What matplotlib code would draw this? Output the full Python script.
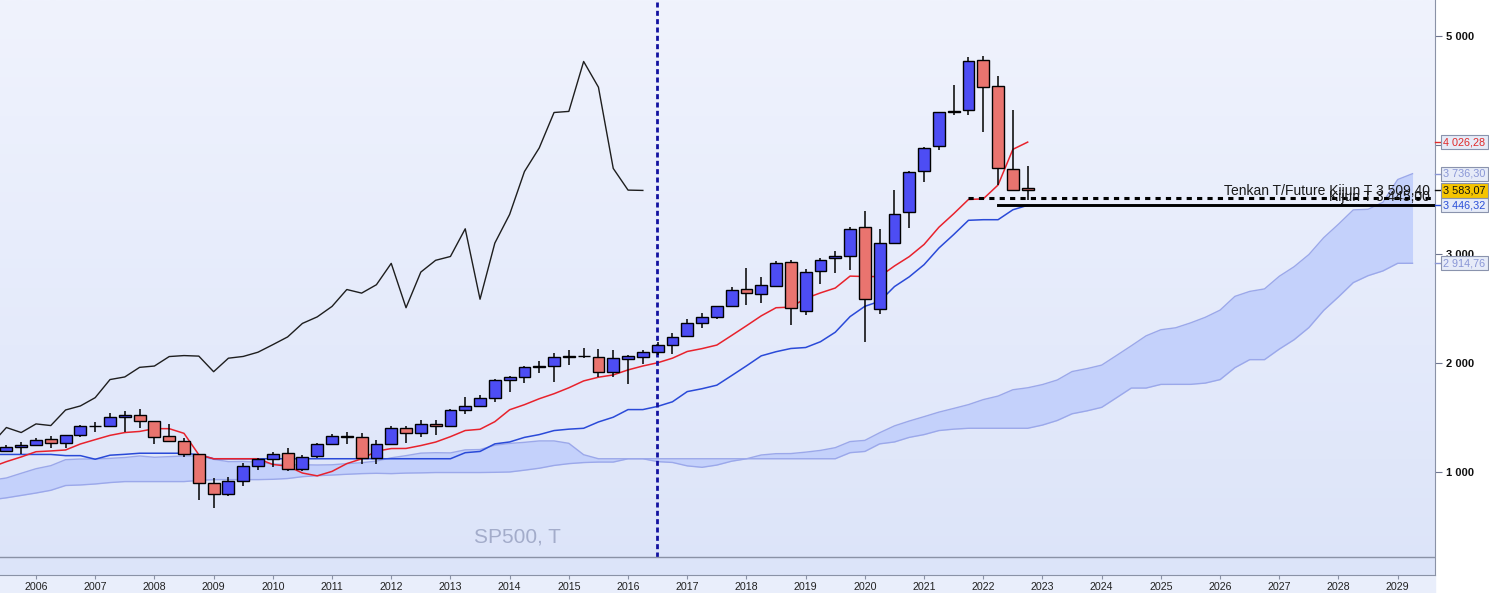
import numpy as np
import matplotlib.pyplot as plt
import matplotlib.transforms as mtransforms
from matplotlib.colors import LinearSegmentedColormap

plt.rcParams['font.family'] = ['Liberation Sans', 'DejaVu Sans']

# SP500 quarterly candles, Q3 2005 .. Q4 2022
opens = [1191, 1228, 1248, 1302, 1270, 1336, 1418, 1421, 1504, 1527,
         1468, 1326, 1284, 1164, 903, 798, 920, 1058, 1116, 1171,
         1032, 1143, 1258, 1329, 1321, 1131, 1258, 1408, 1362, 1441,
         1426, 1569, 1609, 1682, 1846, 1873, 1962, 1972, 2059, 2067,
         2059, 1919, 2038, 2057, 2099, 2164, 2251, 2363, 2424, 2521,
         2683, 2633, 2705, 2926, 2476, 2848, 2964, 2984, 3244, 2499,
         3105, 3385, 3764, 3992, 4300, 4317, 4778, 4540, 3781, 3609]
highs = [1245, 1275, 1310, 1326, 1340, 1431, 1461, 1540, 1556, 1576,
         1471, 1440, 1314, 1167, 944, 956, 1080, 1130, 1180, 1220,
         1157, 1262, 1344, 1371, 1357, 1292, 1420, 1422, 1475, 1475,
         1574, 1687, 1710, 1849, 1884, 1968, 2019, 2093, 2119, 2135,
         2132, 2116, 2072, 2120, 2194, 2278, 2401, 2454, 2519, 2695,
         2873, 2790, 2940, 2941, 2860, 2964, 3028, 3247, 3394, 3233,
         3588, 3760, 3983, 4298, 4546, 4808, 4819, 4637, 4325, 3806]
lows = [1183, 1168, 1245, 1219, 1224, 1323, 1364, 1416, 1370, 1406,
        1257, 1272, 1133, 741, 667, 783, 870, 1020, 1045, 1011,
        1010, 1131, 1250, 1258, 1075, 1074, 1258, 1267, 1325, 1343,
        1426, 1536, 1604, 1646, 1738, 1814, 1905, 1821, 1981, 2048,
        1867, 1872, 1810, 1992, 2074, 2084, 2245, 2322, 2405, 2520,
        2533, 2553, 2699, 2347, 2444, 2728, 2822, 2856, 2192, 2447,
        3101, 3234, 3662, 3955, 4279, 4278, 4115, 3637, 3585, 3491]
closes = [1229, 1248, 1295, 1270, 1336, 1418, 1421, 1503, 1527, 1468,
          1323, 1280, 1166, 903, 798, 919, 1057, 1115, 1169, 1031,
          1141, 1258, 1326, 1321, 1131, 1258, 1408, 1362, 1441, 1426,
          1569, 1606, 1682, 1848, 1872, 1960, 1972, 2059, 2068, 2063,
          1920, 2044, 2060, 2099, 2168, 2239, 2363, 2423, 2519, 2674,
          2641, 2718, 2914, 2507, 2834, 2942, 2977, 3231, 2585, 3100,
          3363, 3756, 3973, 4298, 4308, 4766, 4530, 3785, 3586, 3583.07]

# ichimoku lines, Q2 2005 .. Q4 2022
tenkan = [1045, 1095, 1138, 1186, 1193, 1202, 1257, 1297, 1336,
          1362, 1372, 1397.5, 1397.5, 1354.5, 1158.5, 1121.5, 1121.5, 1121.5, 1121.5,
          1069, 1053.5, 990.5, 964.5, 1005.5, 1077, 1120.5, 1190.5, 1215, 1216,
          1242.5, 1274.5, 1324, 1380.5, 1392, 1461.5, 1571, 1617.5, 1672, 1718,
          1772.5, 1835.5, 1869.5, 1890.5, 1936.5, 1972.5, 2002, 2044, 2105.5, 2132,
          2164.5, 2252.5, 2341.5, 2432.5, 2507, 2512.5, 2593, 2643, 2687.5, 2797,
          2793, 2793, 2890, 2976, 3087.5, 3245, 3369, 3500, 3505.5, 3633,
          3960, 4026.28]
kijun = [1161, 1161, 1161, 1161, 1161, 1150, 1150, 1117, 1154, 1162, 1172, 1172, 1172, 1172, 1158.5,
         1121.5, 1121.5, 1121.5, 1121.5, 1121.5, 1121.5, 1121.5, 1121.5, 1121.5,
         1121.5, 1121.5, 1121.5, 1121.5, 1121.5, 1121.5, 1121.5, 1121.5,
         1177, 1188.5, 1258, 1275.5, 1317.5, 1343, 1380, 1393, 1401, 1459,
         1502.5, 1572.5, 1572.5, 1602, 1644, 1737.5, 1764, 1796.5, 1884.5, 1973.5,
         2065.5, 2103.5, 2133, 2142, 2195, 2282, 2425.5, 2520, 2566, 2701,
         2790.5, 2902, 3054, 3178, 3309, 3314.5, 3314.5, 3405.5, 3446.32]

# cloud (shifted 26 quarters ahead), Q2 2005 .. Q2 2029
senkou_a = [925, 945, 988, 1030, 1058, 1113, 1119, 1119, 1125, 1133, 1147, 1135, 1141, 1147, 1147,
            1116, 1095, 1097, 1090, 1074, 1066, 1066, 1064, 1066, 1077, 1085, 1100,
            1130, 1150, 1173, 1177, 1175, 1203, 1206, 1245, 1262, 1272,
            1285, 1285, 1263, 1158.5, 1121.5, 1121.5, 1121.5, 1121.5, 1095, 1087.5,
            1056, 1043, 1063.5, 1099, 1121, 1156, 1168, 1169, 1182, 1198,
            1223, 1279, 1290, 1360, 1423, 1467.5, 1507.5, 1549, 1583, 1618,
            1664, 1696.5, 1754.5, 1772.5, 1802, 1844, 1921.5, 1948, 1980.5, 2068.5,
            2157.5, 2249, 2305, 2323, 2367.5, 2419, 2485, 2611, 2656.5, 2679.5,
            2795.5, 2883, 2995, 3149.5, 3273.5, 3404.5, 3410, 3474, 3683, 3736.30]
senkou_b = [745, 763, 785, 807, 832, 876, 881, 890, 903, 912, 912, 912, 912, 912, 923,
            930, 930, 930, 930, 933, 940, 957, 966, 972, 979, 985, 988,
            985, 990, 992, 995, 995, 995, 995, 997, 1000, 1016.5,
            1034.5, 1060, 1076.5, 1086.5, 1091, 1091,
            1121.5, 1121.5, 1121.5, 1121.5, 1121.5, 1121.5, 1121.5, 1121.5,
            1121.5, 1121.5, 1121.5, 1121.5, 1121.5, 1121.5, 1121.5,
            1177, 1188.5, 1258, 1275.5, 1317.5, 1343, 1380, 1393, 1401, 1401,
            1401, 1401, 1401, 1430.5, 1472.5, 1534, 1560.5, 1593, 1681, 1770,
            1770, 1803.5, 1804, 1804, 1815.5, 1847.5, 1957, 2030.5, 2030.5, 2127.5,
            2213.5, 2325, 2482.5, 2606.5, 2737.5, 2801, 2844.5, 2914.5, 2914.76]

year_ticks = list(range(2006, 2030))
price_ticks = [1000, 2000, 3000, 4000, 5000]
price_labels = ['1 000', '2 000', '3 000', '4 000', '5 000']

tenkan_future = 3509.40
kijun_level = 3445.00

o = np.array(opens, dtype=float)
c = np.array(closes, dtype=float)
t = 2005.5 + 0.25 * np.arange(len(opens))
t_lines = 2005.25 + 0.25 * np.arange(len(tenkan))
t_cloud = 2005.25 + 0.25 * np.arange(len(senkou_a))

xmin, xmax = 2005.392, 2029.63
ymin, ymax = 55, 5330

fig = plt.figure(figsize=(14.89, 5.93), dpi=100, facecolor='white')
fig.patches.append(plt.Rectangle((0, 0), 1435 / 1489, 18 / 593, transform=fig.transFigure,
                                 color='#e9eefb', zorder=-1))
ax = fig.add_axes([0, 18 / 593, 1435 / 1489, 575 / 593])

bg = LinearSegmentedColormap.from_list('bg', ['#dce4f9', '#f0f3fd'])
ax.imshow(np.linspace(0, 1, 256).reshape(-1, 1), extent=(xmin, xmax, ymin, ymax),
          origin='lower', cmap=bg, aspect='auto', zorder=0)

# cloud
ax.fill_between(t_cloud, senkou_a, senkou_b, color='#c4d1fb', lw=0, zorder=1)
ax.plot(t_cloud, senkou_a, color='#9ba8ea', lw=1, zorder=1.5)
ax.plot(t_cloud, senkou_b, color='#9ba8ea', lw=1, zorder=1.5)

# chikou
ax.plot(t - 6.5, closes, color='#1e1e1e', lw=1, zorder=2)

# tenkan / kijun
ax.plot(t_lines, kijun, color='#2a4ad8', lw=1.1, zorder=3)
ax.plot(t_lines, tenkan, color='#e8222c', lw=1.1, zorder=3)

# candles
up = c >= o
ax.vlines(t, lows, highs, color='black', lw=1.1, zorder=5)
ax.bar(t, np.abs(c - o), bottom=np.minimum(o, c), width=0.2,
       color=np.where(up, '#4d4df4', '#e9746f'), edgecolor='black', lw=1, zorder=6)

# vertical marker and horizontal levels
ax.axvline(2016.49, ymin=0.031, ymax=1, color='#1212a0', lw=2, ls=(0, (1.8, 1.2)), zorder=4)
ax.plot([2021.75, xmax], [tenkan_future, tenkan_future], color='black', lw=2.2,
        ls=(0, (1.7, 1.7)), zorder=7)
ax.plot([2022.25, xmax], [kijun_level, kijun_level], color='black', lw=2.1, zorder=7)
ax.text(2029.55, 3541, 'Tenkan T/Future Kijun T 3 509,40', ha='right', va='baseline',
        fontsize=10, color='#1a1a1a', zorder=8)
ax.text(2029.55, 3486, 'Kijun T 3 445,00', ha='right', va='baseline',
        fontsize=10, color='#1a1a1a', zorder=8)

ax.text(2014.14, 404, 'SP500, T', ha='center', va='center', fontsize=15, color='#a3acca', zorder=2)

# separator line near bottom
ax.plot([0, 1], [0.031, 0.031], transform=ax.transAxes, color='#8a92a6', lw=1, zorder=4)

ax.set_xlim(xmin, xmax)
ax.set_ylim(ymin, ymax)
ax.set_xticks(year_ticks)
ax.set_xticklabels([str(y) for y in year_ticks])
ax.tick_params(axis='x', length=3, pad=2, labelsize=7.7, color='#8a92a6', labelcolor='#222222')
ax.yaxis.tick_right()
ax.set_yticks(price_ticks)
ax.set_yticklabels(price_labels, fontweight='bold')
ax.tick_params(axis='y', length=5, pad=3, labelsize=8, color='#6e7690', labelcolor='#111111')
for s in ['top', 'left']:
    ax.spines[s].set_visible(False)
ax.spines['right'].set_color('#8a92a6')
ax.spines['bottom'].set_color('#8a92a6')


def fmt(v):
    return f'{v:,.2f}'.replace(',', ' ').replace('.', ',')


trans = mtransforms.blended_transform_factory(ax.transAxes, ax.transData)
boxes = [(tenkan[-1], '#e02a2a', '#e6ebf8'),
         (senkou_a[-1], '#8a97d6', '#e6ebf8'),
         (closes[-1], '#111111', '#f5c400'),
         (kijun[-1], '#2a4fd8', '#e6ebf8'),
         (senkou_b[-1], '#8a97d6', '#e6ebf8')]
for val, tc, fc in boxes:
    ax.plot([1.0, 1.0038], [val, val], transform=trans, color=tc, lw=1, clip_on=False, zorder=9)
    ax.text(1.0058, val, fmt(val), transform=trans, ha='left', va='center', fontsize=7.8,
            color=tc, clip_on=False, zorder=10,
            bbox=dict(boxstyle='square,pad=0.2', fc=fc, ec='#8a93ad', lw=0.8))

fig.savefig('out.png', dpi=100, facecolor=fig.get_facecolor())
